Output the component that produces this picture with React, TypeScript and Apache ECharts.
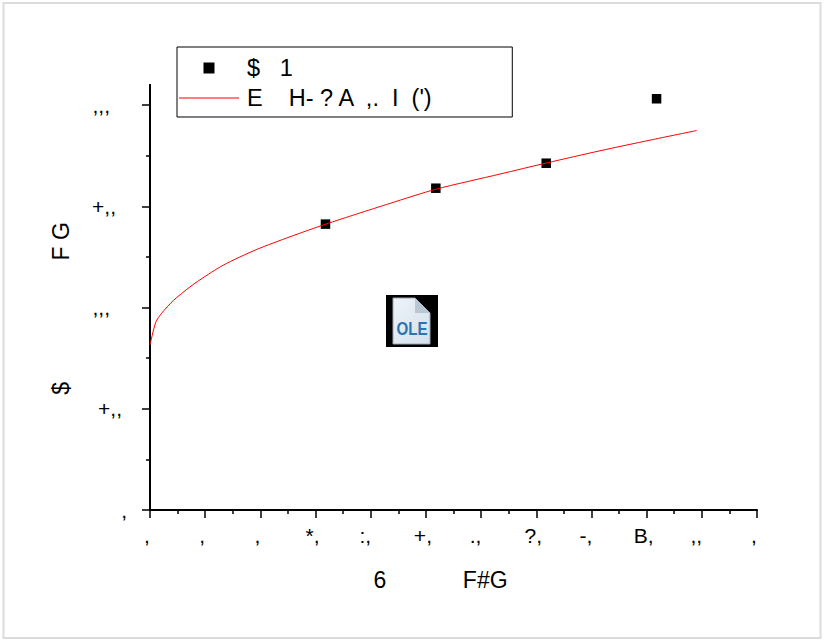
import React, { useEffect, useRef } from "react";
import * as echarts from "echarts";

const xTickLabels = [",", ",", ",", "*,", ":,", "+,", ".,", "?,", "-,", "B,", ",,", ","];
const yTickLabels = [",", "+,,", ",,,", "+,,", ",,,"];
const yTickStyles = ["r0", "r5", "r17", "r11", "r17"];
const xNarrowLabels = [":,", ".,", "-,", ",,"];
const markerName = "$   1";
const curveName = "E    H- ? A  ,.  I  (')";
const markerX = [3.18, 5.18, 7.18, 9.18];
const markerY = [2.825, 3.18, 3.427, 4.064];
const curveX = [0, 0.103, 0.212, 0.422, 0.725, 0.906, 1.328, 1.934, 2.537, 3.184, 3.746, 4.349, 5.18, 6.343, 7.19, 8.155, 9.06, 9.907];
const curveY = [1.63, 1.854, 1.945, 2.07, 2.205, 2.275, 2.42, 2.575, 2.7, 2.825, 2.925, 3.03, 3.17, 3.32, 3.43, 3.55, 3.655, 3.75];

const FONT = "Liberation Sans";

export default function App() {
  const ref = useRef<HTMLDivElement>(null);
  useEffect(() => {
    const chart = echarts.init(ref.current!, undefined, { renderer: "svg" });
    const axisBase = { axisLine: { show: true, onZero: false, lineStyle: { color: "#000", width: 2 } } };
    const labelFont = { color: "#000", fontFamily: FONT, fontSize: 21 };
    chart.setOption({
      animation: false,
      backgroundColor: "#fff",
      grid: { left: 150, top: 85, width: 607, height: 425, containLabel: false },
      xAxis: [{
        type: "value", min: 0, max: 11, interval: 1, splitLine: { show: false }, ...axisBase,
        axisTick: { show: true, inside: false, length: 8, lineStyle: { color: "#000", width: 1.5 } },
        minorTick: { show: true, splitNumber: 2, length: 4, lineStyle: { color: "#000", width: 1.5 } },
        minorSplitLine: { show: false },
        axisLabel: {
          margin: 15, ...labelFont,
          formatter: (_: number, i: number) => `{${xNarrowLabels.includes(xTickLabels[i]) ? "w" : "n"}|${xTickLabels[i]}}`,
          rich: {
            n: { ...labelFont, padding: [0, 6, 0, 0] },
            w: { ...labelFont, padding: [0, 11, 0, 0] },
          },
        },
        name: "6            F#G", nameLocation: "middle", nameGap: 58,
        nameTextStyle: { color: "#000", fontFamily: FONT, fontSize: 23, padding: [0, 26, 0, 0] },
      }],
      yAxis: [{
        type: "value", min: 0, max: 4.2, splitLine: { show: false }, ...axisBase,
        axisTick: { show: true, length: 8, customValues: [0, 1, 2, 3, 4], lineStyle: { color: "#000", width: 1.5 } },
        axisLabel: {
          margin: 23, ...labelFont, customValues: [0, 1, 2, 3, 4],
          formatter: (v: number) => `{${yTickStyles[Math.round(v)]}|${yTickLabels[Math.round(v)]}}`,
          rich: {
            r0: { ...labelFont },
            r5: { ...labelFont, padding: [0, 5, 0, 0] },
            r11: { ...labelFont, padding: [0, 11, 0, 0] },
            r17: { ...labelFont, padding: [0, 17, 0, 0] },
          },
        },
        name: "$                   F G", nameLocation: "middle", nameRotate: 90, nameGap: 78,
        nameTextStyle: { color: "#000", fontFamily: FONT, fontSize: 23, padding: [0, 22, 0, 0] },
      }, {
        type: "value", min: 0, max: 4.2, position: "left", splitLine: { show: false }, ...axisBase,
        axisTick: { show: true, length: 4, customValues: [0.5, 1.5, 2.5, 3.5], lineStyle: { color: "#000", width: 1.5 } },
        axisLabel: { show: false },
      }],
      legend: {
        left: 177, top: 47, orient: "vertical", itemWidth: 60, itemHeight: 11, itemGap: 6,
        padding: [9, 78, 7, 2], borderColor: "#000", borderWidth: 1, backgroundColor: "#fff",
        textStyle: { color: "#000", fontFamily: FONT, fontSize: 23.5, padding: [0, 0, 0, 3] },
        data: [{ name: markerName, icon: "path://M0 0H10V10H0Z" }, { name: curveName, icon: "path://M0 0H60V1H0Z" }],
      },
      series: [
        { type: "scatter", name: markerName, symbol: "rect", symbolSize: 9.5, itemStyle: { color: "#000", opacity: 1 }, data: markerX.map((x, i) => [x, markerY[i]]), z: 2 },
        { type: "line", name: curveName, symbol: "none", smooth: 0.25, lineStyle: { color: "#f00", width: 1 }, itemStyle: { color: "#f00" }, data: curveX.map((x, i) => [x, curveY[i]]), z: 3 },
      ],
      graphic: [
        { type: "rect", silent: true, z: -1, shape: { x: 3.5, y: 3, width: 817, height: 635 }, style: { fill: "#fff", stroke: "#dcdcdc", lineWidth: 2 } },
        { type: "group", left: 386, top: 295, children: [
          { type: "rect", shape: { x: 0, y: 0, width: 52, height: 52 }, style: { fill: "#000" } },
          { type: "polygon", shape: { points: [[7, 3], [29, 3], [44, 18], [44, 49], [7, 49]] }, style: { fill: new echarts.graphic.LinearGradient(0, 0, 1, 1, [{ offset: 0, color: "#eef3f8" }, { offset: 1, color: "#d3e0ec" }]), stroke: "#9aa6b2", lineWidth: 1 } },
          { type: "polygon", shape: { points: [[29, 3], [44, 18], [29, 18]] }, style: { fill: "#b9c6d3" } },
          { type: "text", x: 26, y: 34, scaleX: 0.84, style: { text: "OLE", fill: "#2a74b0", font: "bold 18px Liberation Sans", align: "center", verticalAlign: "middle" } },
        ] },
      ],
    });
    return () => chart.dispose();
  }, []);
  return <div ref={ref} style={{ width: 827, height: 641, position: "fixed", left: 0, top: 0 }} />;
}
